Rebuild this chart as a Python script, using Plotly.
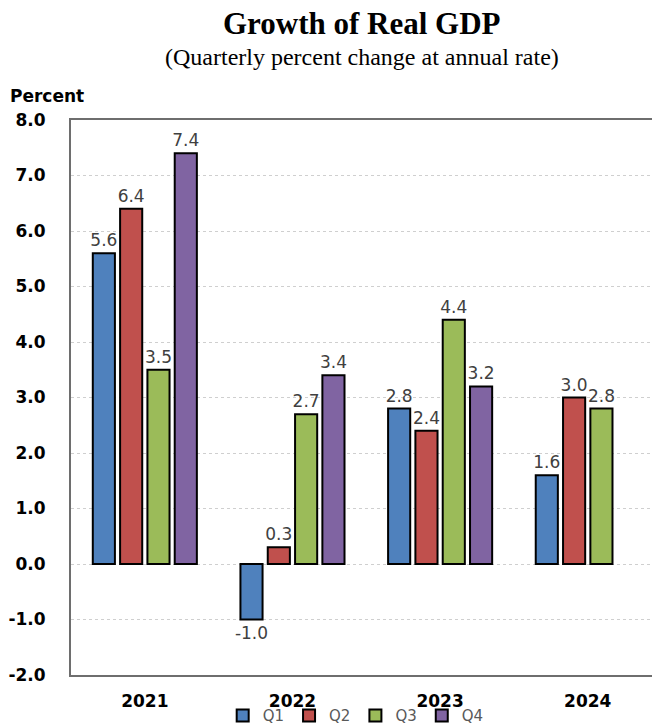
import plotly.graph_objects as go

# Real GDP growth, quarterly percent change at annual rate
years = ["2021", "2022", "2023", "2024"]
q1 = [5.6, -1.0, 2.8, 1.6]
q2 = [6.4, 0.3, 2.4, 3.0]
q3 = [3.5, 2.7, 4.4, 2.8]
q4 = [7.4, 3.4, 3.2, None]

quarters = ["Q1", "Q2", "Q3", "Q4"]
series = [q1, q2, q3, q4]
colors = ["#4F81BD", "#C0504D", "#9BBB59", "#8064A2"]

y_ticks = [8, 7, 6, 5, 4, 3, 2, 1, 0, -1, -2]

fig = go.Figure()
for name, vals, col in zip(quarters, series, colors):
    fig.add_trace(go.Bar(
        name=name,
        x=years,
        y=vals,
        marker=dict(color=col, line=dict(color="#000000", width=2)),
        text=[None if v is None else f"{v:.1f}" for v in vals],
        textposition="outside",
        constraintext="none",
        textfont=dict(family="DejaVu Sans", size=17, color="#404040"),
        cliponaxis=False,
    ))

fig.update_layout(
    width=652,
    height=724,
    margin=dict(l=71, r=0, t=120, b=49, autoexpand=False),
    paper_bgcolor="white",
    plot_bgcolor="white",
    barmode="group",
    bargap=0.26,
    bargroupgap=0.19,
    showlegend=True,
    legend=dict(
        orientation="h",
        x=0.49, xanchor="center",
        yref="container",
        y=0.0115, yanchor="middle",
        font=dict(family="DejaVu Sans", size=15, color="#595959"),
        itemwidth=30,
        tracegroupgap=0,
        bgcolor="rgba(0,0,0,0)",
    ),
    xaxis=dict(
        type="category",
        range=[-0.5, 3.435],
        showline=True, mirror=True, linecolor="#6e6e6e", linewidth=2,
        ticks="", showgrid=False,
        tickfont=dict(family="DejaVu Sans", size=17, color="#000000", weight="bold"),
        ticklabelstandoff=10,
    ),
    yaxis=dict(
        range=[-2, 8],
        tickvals=y_ticks,
        ticktext=[f"{v:.1f}" for v in y_ticks],
        showline=True, linecolor="#6e6e6e", linewidth=2,
        ticks="",
        showgrid=True, gridcolor="#cfcfcf", griddash="dot", gridwidth=1,
        zeroline=False,
        tickfont=dict(family="DejaVu Sans", size=17, color="#000000", weight="bold"),
        ticklabelstandoff=20,
    ),
    annotations=[
        dict(text="<b>Growth of Real GDP</b>", xref="paper", yref="paper",
             x=0.5, y=1, xanchor="center", yanchor="bottom", yshift=77,
             showarrow=False,
             font=dict(family="Liberation Serif", size=31, color="#000000")),
        dict(text="(Quarterly percent change at annual rate)", xref="paper", yref="paper",
             x=0.5, y=1, xanchor="center", yanchor="bottom", yshift=48,
             showarrow=False,
             font=dict(family="Liberation Serif", size=24, color="#000000")),
        dict(text="<b>Percent</b>", xref="paper", yref="paper",
             x=0, y=1, xanchor="left", yanchor="bottom", xshift=-63, yshift=12,
             showarrow=False,
             font=dict(family="DejaVu Sans", size=17, color="#000000")),
    ],
)

fig.write_html("out.html")
